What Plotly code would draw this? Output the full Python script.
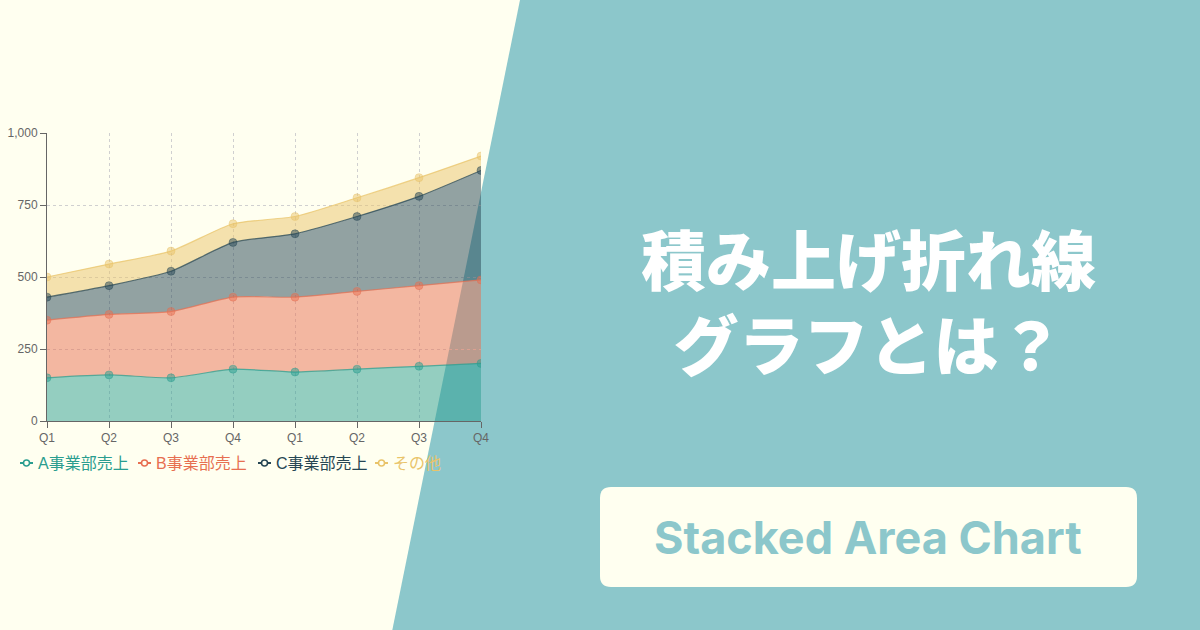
import plotly.graph_objects as go

# Data
quarters = ["Q1", "Q2", "Q3", "Q4", "Q1", "Q2", "Q3", "Q4"]
series_names = ["A事業部売上", "B事業部売上", "C事業部売上", "その他"]
sales_a = [150, 160, 150, 180, 170, 180, 190, 200]
sales_b = [200, 210, 230, 250, 260, 270, 280, 290]
sales_c = [80, 100, 140, 190, 220, 260, 310, 380]
sales_other = [70, 75, 70, 65, 60, 65, 65, 50]
y_ticks = [0, 250, 500, 750, 1000]

colors = ["#2A9D8F", "#E76F51", "#264653", "#E9C46A"]
BG = "#FFFFF0"
TEAL = "#8CC7CB"

# page / plot geometry in pixels
W, H = 1200, 630
L, R, T, B = 47, 481, 133, 421


def px(x):
    return (x - L) / (R - L)


def py(y):
    return (B - y) / (B - T)


def rgba(hex_color, a):
    h = hex_color.lstrip("#")
    r, g, b = int(h[0:2], 16), int(h[2:4], 16), int(h[4:6], 16)
    return f"rgba({r},{g},{b},{a})"


fig = go.Figure()
x_idx = list(range(len(quarters)))
for name, vals, col in zip(series_names, [sales_a, sales_b, sales_c, sales_other], colors):
    fig.add_trace(go.Scatter(
        x=x_idx, y=vals, name=name,
        stackgroup="sales",
        mode="lines+markers",
        line=dict(color=rgba(col, 0.75), width=1.2, shape="spline", smoothing=0.6),
        fillcolor=rgba(col, 0.5),
        marker=dict(size=8, color=rgba(col, 0.5),
                    line=dict(color=rgba(col, 0.4), width=1)),
        showlegend=False,
        hovertemplate=name + ": %{y}<extra></extra>",
    ))

axis_style = dict(
    showgrid=True, gridcolor="#d0d0d0", griddash="3px,3px", gridwidth=1,
    showline=True, linecolor="#666666", linewidth=1,
    ticks="outside", ticklen=6, tickcolor="#666666",
    tickfont=dict(family="Liberation Sans, Arial", size=12, color="#666666"),
    zeroline=False, automargin=False, fixedrange=True,
)
fig.update_xaxes(range=[0, len(quarters) - 1], tickmode="array",
                 tickvals=x_idx, ticktext=quarters, **axis_style)
fig.update_yaxes(range=[0, 1000], tickmode="array", tickvals=y_ticks,
                 tickformat=",", **axis_style)

shapes = []
# diagonal teal panel behind the chart
shapes.append(dict(
    type="path", xref="paper", yref="paper", layer="below",
    path=f"M {px(520.4)},{py(-2)} L {px(1210)},{py(-2)} L {px(1210)},{py(640)} "
         f"L {px(390.3)},{py(640)} Z",
    fillcolor=TEAL, line=dict(width=0),
))
# rounded box for the english subtitle
bx0, bx1, by0, by1, rad = 600, 1137, 487, 587, 11
shapes.append(dict(
    type="path", xref="paper", yref="paper", layer="below",
    path=(f"M {px(bx0 + rad)},{py(by0)} L {px(bx1 - rad)},{py(by0)} "
          f"Q {px(bx1)},{py(by0)} {px(bx1)},{py(by0 + rad)} "
          f"L {px(bx1)},{py(by1 - rad)} Q {px(bx1)},{py(by1)} {px(bx1 - rad)},{py(by1)} "
          f"L {px(bx0 + rad)},{py(by1)} Q {px(bx0)},{py(by1)} {px(bx0)},{py(by1 - rad)} "
          f"L {px(bx0)},{py(by0 + rad)} Q {px(bx0)},{py(by0)} {px(bx0 + rad)},{py(by0)} Z"),
    fillcolor=BG, line=dict(width=0),
))

annotations = []
# custom legend below the plot
legend_x = [20, 138, 258, 375]
legend_y = 463
for name, col, lx in zip(series_names, colors, legend_x):
    shapes.append(dict(type="line", xref="paper", yref="paper",
                       x0=px(lx), x1=px(lx + 13), y0=py(legend_y), y1=py(legend_y),
                       line=dict(color=col, width=2)))
    shapes.append(dict(type="circle", xref="paper", yref="paper",
                       x0=px(lx + 3.5), x1=px(lx + 9.5), y0=py(legend_y + 3), y1=py(legend_y - 3),
                       fillcolor=BG, line=dict(color=col, width=1.5)))
    annotations.append(dict(
        xref="paper", yref="paper", x=px(lx + 16), y=py(legend_y),
        xanchor="left", yanchor="middle", showarrow=False, text=name,
        font=dict(family="Liberation Sans, Noto Sans CJK JP", size=16, color=col),
    ))

# heading on the teal panel (two lines in one text block)
annotations.append(dict(
    xref="paper", yref="paper", x=px(868), y=py(299),
    xanchor="center", yanchor="middle", showarrow=False,
    text="積み上げ折れ線<br>グラフとは？",
    font=dict(family="Noto Sans CJK JP", size=65, color="white", weight=900),
))
annotations.append(dict(
    xref="paper", yref="paper", x=px(868), y=py(537),
    xanchor="center", yanchor="middle", showarrow=False,
    text="Stacked Area Chart",
    font=dict(family="Inter", size=45, color=TEAL, weight=700),
))

fig.update_layout(
    width=W, height=H,
    margin=dict(l=L, r=W - R, t=T, b=H - B, pad=0),
    paper_bgcolor=BG, plot_bgcolor="rgba(0,0,0,0)",
    showlegend=False,
    shapes=shapes, annotations=annotations,
)

fig.write_html("out.html", config={"displayModeBar": False},
               post_script="document.body.style.margin='0';")
